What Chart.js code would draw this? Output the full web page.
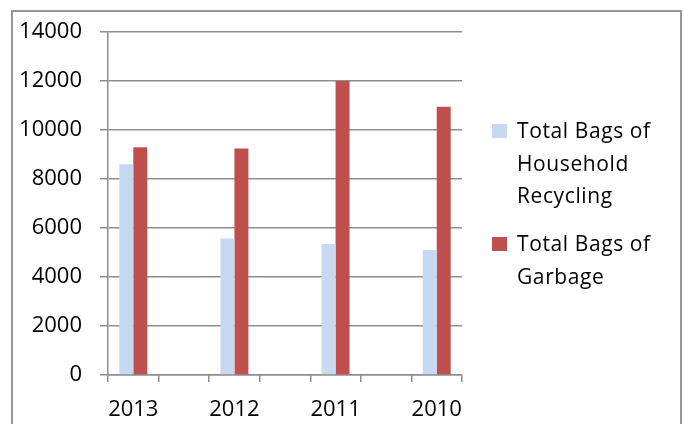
<!DOCTYPE html>
<html>
<head>
<meta charset="utf-8">
<script src="https://cdn.jsdelivr.net/npm/chart.js@4.4.1/dist/chart.umd.min.js"></script>
<style>
  body { margin: 0; background: #fff; }
  #wrap { position: relative; width: 684px; height: 424px; overflow: hidden; }
  #frame { position: absolute; left: 11px; top: 10px; width: 667px; height: 440px; border: 2px solid #969696; }
  #myChart { position: absolute; left: 0; top: 0; }
  .legend-item { position: absolute; left: 492px; font-family: 'Open Sans'; font-size: 21px; line-height: 32.5px; color: #000; letter-spacing: 0.6px; }
  .legend-box { position: absolute; left: 0; top: 10px; width: 15px; height: 14px; }
  .legend-text { position: absolute; left: 25px; top: 0; white-space: nowrap; }
</style>
</head>
<body>
<div id="wrap">
  <div id="frame"></div>
  <canvas id="myChart" width="684" height="424"></canvas>
  <div id="legend"></div>
</div>
<script>
// blank slots sit between the years, like the original sheet
const years = ["2013", "", "2012", "", "2011", "", "2010"];
const recycling = [8600, null, 5570, null, 5350, null, 5100];
const garbage = [9300, null, 9250, null, 12000, null, 10950];
const seriesNames = ["Total Bags of Household Recycling", "Total Bags of Garbage"];
const legendLines = [["Total Bags of", "Household", "Recycling"], ["Total Bags of", "Garbage"]];
const seriesColors = ["#C6D9F1", "#C0504D"];
const yMin = 0, yMax = 14000, yStep = 2000;

const gridColor = "#8e8e8e";
const font = { family: "'Open Sans'", size: 22 };

const ctx = document.getElementById("myChart");
new Chart(ctx, {
  type: "bar",
  data: {
    labels: years,
    datasets: [
      {
        label: seriesNames[0],
        data: recycling,
        backgroundColor: seriesColors[0],
        categoryPercentage: 0.553,
        barPercentage: 1.0,
      },
      {
        label: seriesNames[1],
        data: garbage,
        backgroundColor: seriesColors[1],
        categoryPercentage: 0.553,
        barPercentage: 1.0,
      },
    ],
  },
  options: {
    responsive: false,
    animation: false,
    layout: { padding: { top: 32, right: 222, bottom: 0, left: 0 } },
    plugins: {
      legend: { display: false },
      tooltip: { enabled: false },
    },
    scales: {
      x: {
        grid: { offset: true, drawOnChartArea: false, tickLength: 7, color: gridColor, lineWidth: 1.5 },
        border: { display: true, color: gridColor, width: 1.5 },
        ticks: { autoSkip: false, maxRotation: 0, padding: 15, color: "#000", font: font },
        afterFit: (scale) => { scale.height = 49; },
      },
      y: {
        min: yMin,
        max: yMax,
        grid: { tickLength: 8, color: gridColor, lineWidth: 1.5 },
        border: { display: true, color: gridColor, width: 1.5 },
        ticks: {
          stepSize: yStep,
          padding: 18,
          color: "#000",
          font: font,
          callback: (value) => String(value),
        },
        afterFit: (scale) => { scale.width = 108; },
      },
    },
  },
});

// legend on the right, one block per series
const legendTops = [114, 227];
const legend = document.getElementById("legend");
legendLines.forEach((lines, i) => {
  const item = document.createElement("div");
  item.className = "legend-item";
  item.style.top = legendTops[i] + "px";
  const box = document.createElement("div");
  box.className = "legend-box";
  box.style.background = seriesColors[i];
  const text = document.createElement("div");
  text.className = "legend-text";
  text.innerHTML = lines.join("<br>");
  item.appendChild(box);
  item.appendChild(text);
  legend.appendChild(item);
});
</script>
</body>
</html>
